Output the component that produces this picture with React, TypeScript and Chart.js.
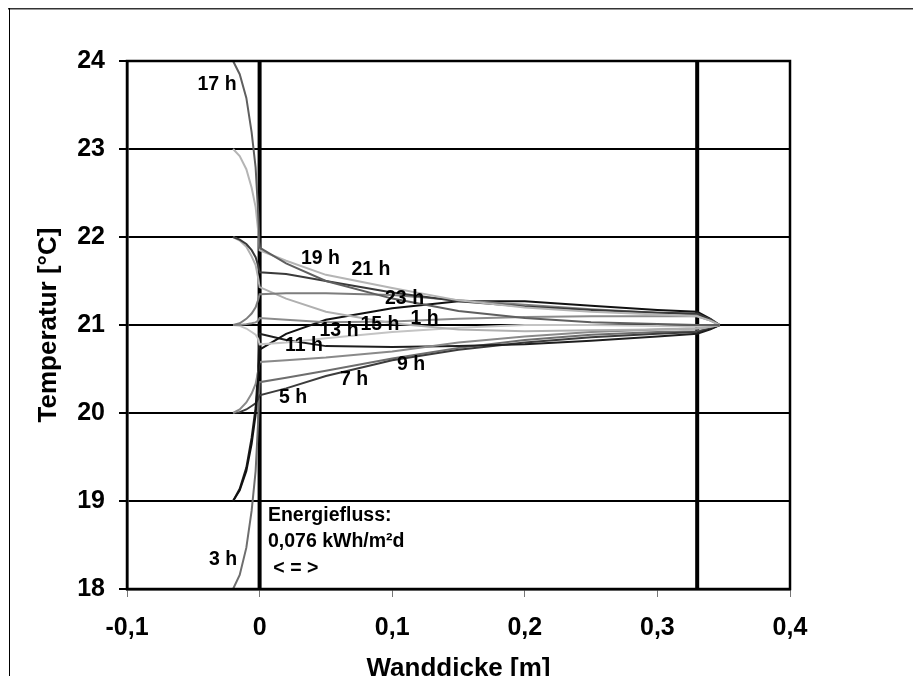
import React, { useEffect, useRef } from 'react';
import { Chart, registerables } from 'chart.js';

Chart.register(...registerables);

// wall depth positions (m) shared by all profiles
const X_POS = [-0.02, -0.015, -0.01, -0.006, -0.003, -0.001, 0, 0.02, 0.05, 0.1, 0.15, 0.2, 0.25, 0.3, 0.33, 0.34, 0.347];

// temperature profiles (°C), one per hour
const T_17H = [24, 23.85, 23.58, 23.19, 22.79, 22.26, 21.88, 21.7, 21.5, 21.3, 21.16, 21.08, 21.03, 21.01, 21.0, 21.0, 21.0];
const T_19H = [23, 22.92, 22.77, 22.56, 22.34, 22.06, 21.85, 21.73, 21.57, 21.42, 21.28, 21.2, 21.15, 21.12, 21.1, 21.05, 21.0];
const T_21H = [22, 21.97, 21.92, 21.85, 21.77, 21.67, 21.6, 21.58, 21.5, 21.37, 21.27, 21.21, 21.17, 21.14, 21.13, 21.06, 21.0];
const T_23H = [21, 21.02, 21.07, 21.13, 21.2, 21.29, 21.35, 21.36, 21.36, 21.34, 21.28, 21.23, 21.18, 21.14, 21.12, 21.06, 21.0];
const T_15H = [22, 21.96, 21.89, 21.78, 21.68, 21.53, 21.43, 21.3, 21.15, 21.02, 20.95, 20.93, 20.94, 20.95, 20.96, 20.98, 21.0];
const T_1H = [21, 21.0, 21.01, 21.02, 21.03, 21.05, 21.08, 21.06, 21.03, 21.04, 21.07, 21.09, 21.1, 21.1, 21.1, 21.05, 21.0];
const T_13H = [21, 20.99, 20.96, 20.92, 20.89, 20.84, 20.78, 20.8, 20.85, 20.92, 20.97, 21.0, 21.0, 20.99, 20.98, 20.99, 21.0];
const T_11H = [19, 19.12, 19.34, 19.65, 19.98, 20.41, 20.72, 20.9, 21.06, 21.19, 21.27, 21.27, 21.22, 21.17, 21.15, 21.07, 21.0];
const T_9H = [20, 20.04, 20.12, 20.22, 20.33, 20.48, 20.58, 20.6, 20.63, 20.7, 20.8, 20.87, 20.92, 20.95, 20.96, 20.98, 21.0];
const T_7H = [19, 19.14, 19.38, 19.72, 20.06, 20.52, 20.9, 20.83, 20.76, 20.75, 20.76, 20.78, 20.82, 20.87, 20.9, 20.95, 21.0];
const T_5H = [20, 20.01, 20.04, 20.08, 20.11, 20.16, 20.2, 20.28, 20.42, 20.6, 20.72, 20.8, 20.86, 20.9, 20.92, 20.96, 21.0];
const T_3H = [18, 18.16, 18.47, 18.89, 19.34, 19.93, 20.35, 20.4, 20.48, 20.62, 20.74, 20.83, 20.89, 20.92, 20.93, 20.96, 21.0];

const SERIES = [T_17H, T_19H, T_21H, T_23H, T_15H, T_1H, T_13H, T_11H, T_9H, T_7H, T_5H, T_3H];
const SERIES_COLORS = ['#5f5f5f', '#b5b5b5', '#3a3a3a', '#7d7d7d', '#b0b0b0', '#8c8c8c', '#c4c4c4', '#111111', '#8a8a8a', '#1e1e1e', '#3c3c3c', '#6e6e6e'];

// wall boundaries (m)
const WALL_EDGES = [0, 0.33];
const Y_RANGE = [18, 24];

// axis ticks
const X_TICKS = [-0.1, 0, 0.1, 0.2, 0.3, 0.4];
const X_TICK_LABELS = ['-0,1', '0', '0,1', '0,2', '0,3', '0,4'];
const Y_TICKS = [18, 19, 20, 21, 22, 23, 24];
const Y_TICK_LABELS = ['18', '19', '20', '21', '22', '23', '24'];

// hour annotations (data coordinates)
const HOUR_LABELS = ['17 h', '19 h', '21 h', '23 h', '1 h', '15 h', '13 h', '11 h', '9 h', '7 h', '5 h', '3 h'];
const HOUR_LABEL_X = [-0.0321, 0.0459, 0.084, 0.1093, 0.1244, 0.0908, 0.0599, 0.0335, 0.1142, 0.0712, 0.0252, -0.0276];
const HOUR_LABEL_Y = [23.733, 21.756, 21.625, 21.295, 21.074, 21.006, 20.932, 20.761, 20.545, 20.381, 20.176, 18.335];

const NOTE_LINES = ['Energiefluss:', '0,076 kWh/m²d', ' < = >'];
const NOTE_X = [0.0063, 0.0063, 0.0063];
const NOTE_Y = [18.83, 18.534, 18.227];

const FONT_FAMILY = '"Liberation Sans", Arial, sans-serif';

const overlayPlugin = {
  id: 'overlay',
  afterDraw(chart: any) {
    const { ctx, chartArea: a, scales } = chart;
    const x = scales.x;
    const y = scales.y;
    ctx.save();
    ctx.strokeStyle = '#000';
    ctx.lineWidth = 2.5;
    ctx.strokeRect(a.left, a.top, a.right - a.left, a.bottom - a.top);
    // outer frame (only left/top visible)
    ctx.fillStyle = '#333';
    ctx.fillRect(0, 0, chart.width, 1.5);
    ctx.fillStyle = '#000';
    ctx.fillRect(1, 0, 1, chart.height);

    ctx.fillStyle = '#000';
    ctx.font = 'bold 19.5px ' + FONT_FAMILY;
    ctx.textAlign = 'center';
    ctx.textBaseline = 'middle';
    HOUR_LABELS.forEach((t, i) => {
      ctx.fillText(t, x.getPixelForValue(HOUR_LABEL_X[i]), y.getPixelForValue(HOUR_LABEL_Y[i]));
    });
    ctx.textAlign = 'left';
    NOTE_LINES.forEach((t, i) => {
      ctx.fillText(t, x.getPixelForValue(NOTE_X[i]), y.getPixelForValue(NOTE_Y[i]));
    });
    ctx.restore();
  },
};

export default function App() {
  const ref = useRef<HTMLCanvasElement>(null);

  useEffect(() => {
    const datasets: any[] = SERIES.map((vals, i) => ({
      label: HOUR_LABELS[i],
      data: X_POS.map((xv, j) => ({ x: xv, y: vals[j] })),
      showLine: true,
      borderColor: SERIES_COLORS[i],
      backgroundColor: SERIES_COLORS[i],
      borderWidth: 2,
      pointRadius: 0,
      tension: 0,
    }));
    WALL_EDGES.forEach((xv) => {
      datasets.push({
        label: 'wall',
        data: [{ x: xv, y: Y_RANGE[0] }, { x: xv, y: Y_RANGE[1] }],
        showLine: true,
        borderColor: '#000',
        borderWidth: 4,
        pointRadius: 0,
      });
    });

    const chart = new Chart(ref.current as HTMLCanvasElement, {
      type: 'scatter',
      data: { datasets },
      plugins: [overlayPlugin],
      options: {
        animation: false,
        responsive: false,
        devicePixelRatio: 1,
        layout: { padding: { left: 0, right: 131, top: 53, bottom: 0 } },
        plugins: { legend: { display: false }, tooltip: { enabled: false } },
        scales: {
          x: {
            type: 'linear',
            min: -0.1,
            max: 0.4,
            afterFit: (s: any) => { s.height = 119; },
            afterBuildTicks: (s: any) => { s.ticks = X_TICKS.map((v) => ({ value: v })); },
            ticks: {
              callback: (_v: any, i: number) => X_TICK_LABELS[i],
              color: '#000',
              font: { family: FONT_FAMILY, size: 25, weight: 'bold' },
              padding: 16,
              maxRotation: 0,
            },
            grid: { drawOnChartArea: false, drawTicks: true, tickLength: 8, color: '#777', lineWidth: 1 },
            border: { display: true, color: '#000', width: 2.5 },
            title: {
              display: true,
              text: 'Wanddicke [m]',
              color: '#000',
              font: { family: FONT_FAMILY, size: 26, weight: 'bold' },
              padding: { top: 0, bottom: 23.5 },
            },
          },
          y: {
            type: 'linear',
            min: Y_RANGE[0],
            max: Y_RANGE[1],
            afterFit: (s: any) => { s.width = 119; },
            afterBuildTicks: (s: any) => { s.ticks = Y_TICKS.map((v) => ({ value: v })); },
            ticks: {
              callback: (_v: any, i: number) => Y_TICK_LABELS[i],
              color: '#000',
              font: { family: FONT_FAMILY, size: 25, weight: 'bold' },
              padding: 14,
            },
            grid: { drawOnChartArea: true, drawTicks: true, tickLength: 8, color: '#000', lineWidth: 2 },
            border: { display: true, color: '#000', width: 2.5 },
            title: {
              display: true,
              text: 'Temperatur [°C]',
              color: '#000',
              font: { family: FONT_FAMILY, size: 26, weight: 'bold' },
              padding: { top: 25.2, bottom: 0 },
            },
          },
        },
      } as any,
    });
    return () => chart.destroy();
  }, []);

  return (
    <div style={{ width: 913, height: 676, overflow: 'hidden', marginBottom: -8 }}>
      <canvas ref={ref} width={913} height={700} style={{ display: 'block', width: 913, height: 700 }} />
    </div>
  );
}
